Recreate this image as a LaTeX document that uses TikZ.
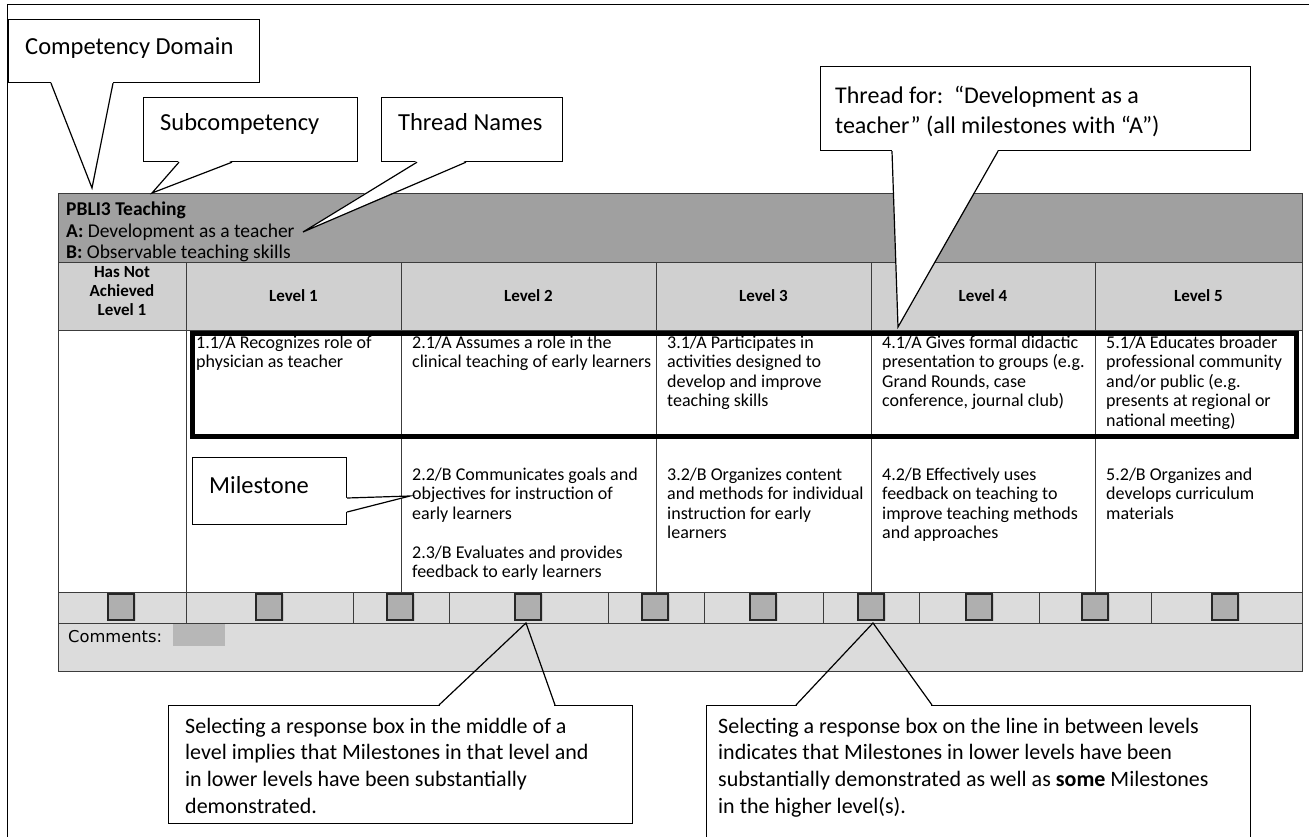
\documentclass[tikz,border=0pt]{standalone}
\usepackage{fontspec}
\setmainfont{Carlito}
\newfontfamily\dvsans{DejaVu Sans}
\usetikzlibrary{calc}
\definecolor{bandgray}{HTML}{A0A0A0}
\definecolor{headgray}{HTML}{D0D0D0}
\definecolor{rowgray}{HTML}{DCDCDC}
\definecolor{boxgray}{HTML}{AFAFAF}
\definecolor{shadgray}{HTML}{C4C4C4}
\definecolor{linegray}{HTML}{3C3C3C}
\begin{document}
\begin{tikzpicture}[x=1pt,y=-1pt,
  tline/.style={draw=linegray, line width=0.9pt},
  cl/.style={draw=black, line width=1.2pt, line join=miter},
  cbox/.style={draw=black, line width=1.2pt, fill=white, rectangle, inner sep=0pt, anchor=north west},
  ctext/.style={font=\fontsize{24.5}{29}\selectfont, anchor=base west, inner sep=0pt},
  ctextml/.style={font=\fontsize{24}{30}\selectfont, anchor=north west, inner sep=0pt, align=left, yshift=21pt},
  btext/.style={font=\fontsize{22}{26.7}\selectfont, anchor=north west, inner sep=0pt, align=left, yshift=18.69pt},
  cell/.style={font=\fontsize{18}{19.5}\selectfont, anchor=north west, inner sep=0pt, align=left, yshift=13.65pt},
  band/.style={font=\fontsize{19.5}{22}\selectfont, anchor=base west, inner sep=0pt},
  lvl/.style={font=\bfseries\fontsize{17}{19}\selectfont, inner sep=0pt, anchor=base},
  lvlml/.style={font=\bfseries\fontsize{17}{19}\selectfont, inner sep=0pt, anchor=north, align=center, yshift=13.3pt},
  rbox/.style={draw=black!85, fill=boxgray, line width=1.3pt, minimum width=26pt, minimum height=26pt, inner sep=0pt},
  rshad/.style={fill=shadgray, minimum width=27pt, minimum height=27pt, inner sep=0pt},
]
\useasboundingbox (0,0) rectangle (1309,837);
\fill[white] (0,0) rectangle (1309,837);
% outer frame
\draw[line width=1pt] (7,837) -- (7,5) -- (1309,5);

% ---------- table fills ----------
\fill[bandgray] (58,193) rectangle (1302,262);
\fill[headgray] (58,262) rectangle (1302,330);
\fill[rowgray] (58,592) rectangle (1302,671);
\fill[boxgray!90] (173,623) rectangle (225,646);

% ---------- table lines ----------
\draw[tline] (58,193) rectangle (1302,671);
\draw[tline] (58,262) -- (1302,262);
\draw[tline] (58,330) -- (1302,330);
\draw[tline] (58,592) -- (1302,592);
\draw[tline] (58,623) -- (1302,623);
\foreach \cx in {401,656,871,1095} \draw[tline] (\cx,262) -- (\cx,592);
\draw[tline] (186,262) -- (186,623);
\foreach \cx in {353,449,608,704,823,919,1039,1151} \draw[tline] (\cx,592) -- (\cx,623);

% thick thread box
\draw[line width=5pt] (192.5,333.5) rectangle (1296.5,436);

% ---------- band text ----------
\node[band] (title) at (66,215) {\bfseries PBLI3 Teaching};
\node[band] (thA) at (66,237) {\textbf{A:} Development as a teacher};
\node[band] (thB) at (66,258.5) {\textbf{B:} Observable teaching skills};

% ---------- level headers ----------
\node[lvlml] (h0) at (122,279.5) {Has Not\\Achieved\\Level 1};
\node[lvl] (h1) at (293.5,301.5) {Level 1};
\node[lvl] (h2) at (528.5,301.5) {Level 2};
\node[lvl] (h3) at (763.5,301.5) {Level 3};
\node[lvl] (h4) at (983,301.5) {Level 4};
\node[lvl] (h5) at (1198.5,301.5) {Level 5};

% ---------- row A ----------
\node[cell] (a1) at (196,348) {\strut 1.1/A Recognizes role of\\physician as teacher};
\node[cell] (a2) at (412,348) {\strut 2.1/A Assumes a role in the\\clinical teaching of early learners};
\node[cell] (a3) at (667,348) {\strut 3.1/A Participates in\\activities designed to\\develop and improve\\teaching skills};
\node[cell] (a4) at (882,348) {\strut 4.1/A Gives formal didactic\\presentation to groups (e.g.\\Grand Rounds, case\\conference, journal club)};
\node[cell] (a5) at (1106,348) {\strut 5.1/A Educates broader\\professional community\\and/or public (e.g.\\presents at regional or\\national meeting)};

% ---------- row B ----------
\node[cell] (b2) at (412,480) {\strut 2.2/B Communicates goals and\\objectives for instruction of\\early learners\\[19.5pt]2.3/B Evaluates and provides\\feedback to early learners};
\node[cell] (b3) at (667,480) {\strut 3.2/B Organizes content\\and methods for individual\\instruction for early\\learners};
\node[cell] (b4) at (882,480) {\strut 4.2/B Effectively uses\\feedback on teaching to\\improve teaching methods\\and approaches};
\node[cell] (b5) at (1106,480) {\strut 5.2/B Organizes and\\develops curriculum\\materials};

% ---------- response boxes ----------
\foreach \i/\cx in {1/121,2/269,3/400,4/528,5/655,6/763,7/871,8/979,9/1095,10/1225}{
  \node[rshad] (s\i) at (\cx+1.5,607.5) {};
  \node[rbox] (r\i) at (\cx,607) {};
}
\node[font=\dvsans\fontsize{16.3}{18}\selectfont, anchor=base west, inner sep=0pt] (comm) at (68,642) {Comments:};

% ---------- callouts ----------
% Competency Domain
\node[cbox, minimum width=251pt, minimum height=63pt] (cd) at (8,19) {};
\node[ctext] (cdt) at (25,55) {Competency Domain};
\coordinate (cdtip) at (92,188);
\fill[white] ([xshift=43pt,yshift=1.5pt]cd.south west) -- (cdtip) -- ([xshift=105pt,yshift=1.5pt]cd.south west) -- cycle;
\draw[cl] ([xshift=43pt]cd.south west) -- (cdtip) -- ([xshift=105pt]cd.south west);

% Subcompetency
\node[cbox, minimum width=214pt, minimum height=64pt] (sc) at (143,97) {};
\node[ctext] (sct) at (160,131) {Subcompetency};
\coordinate (sctip) at (152,193);
\fill[white] ([xshift=36pt,yshift=1.5pt]sc.south west) -- (sctip) -- ([xshift=89pt,yshift=1.5pt]sc.south west) -- cycle;
\draw[cl] ([xshift=36pt]sc.south west) -- (sctip) -- ([xshift=89pt]sc.south west);

% Thread Names
\node[cbox, minimum width=181pt, minimum height=64pt] (tn) at (381,97) {};
\node[ctext] (tnt) at (398,131) {Thread Names};
\coordinate (tntip) at (303,232);
\fill[white] ([xshift=36pt,yshift=1.5pt]tn.south west) -- (tntip) -- ([xshift=85pt,yshift=1.5pt]tn.south west) -- cycle;
\draw[cl] ([xshift=36pt]tn.south west) -- (tntip) -- ([xshift=85pt]tn.south west);

% Thread for
\node[cbox, minimum width=430pt, minimum height=84pt] (tf) at (820,66) {};
\node[ctextml] (tft) at (835,103) {\strut Thread for:\ \ “Development as a\\teacher” (all milestones with “A”)};
\coordinate (tftip) at (898,327);
\fill[white] ([xshift=72pt,yshift=1.5pt]tf.south west) -- (tftip) -- ([xshift=178pt,yshift=1.5pt]tf.south west) -- cycle;
\draw[cl] ([xshift=72pt]tf.south west) -- (tftip) -- ([xshift=178pt]tf.south west);

% Milestone
\node[cbox, minimum width=154pt, minimum height=67pt] (ms) at (192,457) {};
\node[ctext] (mst) at (209,493) {Milestone};
\coordinate (mstip) at (410,496);
\fill[white] ([yshift=-41pt,xshift=-1.5pt]ms.north east) -- (mstip) -- ([yshift=-55pt,xshift=-1.5pt]ms.north east) -- cycle;
\draw[cl] ([yshift=-41pt]ms.north east) -- (mstip) -- ([yshift=-55pt]ms.north east);

% bottom left callout
\node[cbox, minimum width=464pt, minimum height=118pt] (bl) at (168,705) {};
\node[btext] (blt) at (185,733) {\strut Selecting a response box in the middle of a\\level implies that Milestones in that level and\\in lower levels have been substantially\\demonstrated.};
\coordinate (bltip) at (526,623);
\fill[white] ([xshift=272pt,yshift=1.2pt]bl.north west) rectangle ([xshift=386pt,yshift=-1.2pt]bl.north west);
\draw[cl] ([xshift=271pt]bl.north west) -- (bltip) -- ([xshift=387pt]bl.north west);

% bottom right callout (runs off the bottom)
\node[cbox, minimum width=544pt, minimum height=160pt] (br) at (706,705) {};
\node[btext] (brt) at (718,733) {\strut Selecting a response box on the line in between levels\\indicates that Milestones in lower levels have been\\substantially demonstrated as well as \textbf{some} Milestones\\in the higher level(s).};
\coordinate (brtip) at (873,623);
\fill[white] ([xshift=91pt,yshift=1.2pt]br.north west) rectangle ([xshift=225pt,yshift=-1.2pt]br.north west);
\draw[cl] ([xshift=90pt]br.north west) -- (brtip) -- ([xshift=226pt]br.north west);
\end{tikzpicture}
\end{document}
